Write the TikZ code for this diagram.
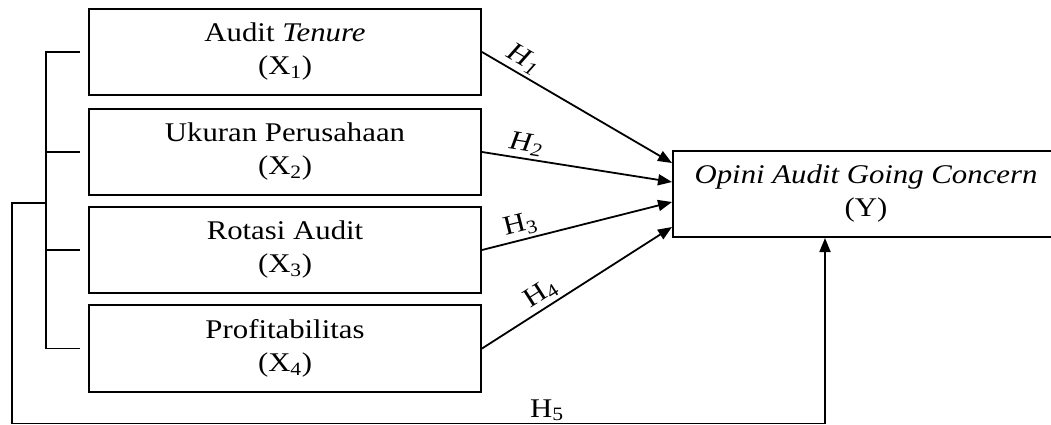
\documentclass[tikz,border=0pt]{standalone}
\usepackage{fontspec}
\setmainfont{Liberation Serif}[FakeStretch=1.14]
\usetikzlibrary{arrows.meta,calc}
\begin{document}
\begin{tikzpicture}[x=1pt,y=-1pt,
  line width=1.8pt,
  varbox/.style={draw, line width=2pt, minimum width=392pt, minimum height=86pt, align=center, inner sep=0pt,
    font=\fontsize{27}{33}\selectfont},
  arr/.style={-{Triangle[length=14pt,width=11pt]}, line width=1.8pt},
  hlab/.style={font=\fontsize{27}{33}\selectfont, inner sep=1pt, sloped, above=2pt}
]
\useasboundingbox (0,0) rectangle (1051,425);
\clip (0,0) rectangle (1051,425);

\node[varbox] (x1) at (285,52) {Audit \textit{Tenure}\\(X\textsubscript{1})};
\node[varbox] (x2) at (285,152) {Ukuran Perusahaan\\(X\textsubscript{2})};
\node[varbox] (x3) at (285,250) {Rotasi Audit\\(X\textsubscript{3})};
\node[varbox, minimum height=87pt] (x4) at (285,348.5) {Profitabilitas\\(X\textsubscript{4})};
\node[varbox, minimum width=386pt] (y) at (866,194) {\textit{Opini Audit Going Concern}\\(Y)};

% bracket on the left
\coordinate (t1) at ($(x1.west)+(-8,0)$);
\coordinate (t2) at ($(x2.west)+(-8,0)$);
\coordinate (t3) at ($(x3.west)+(-8,0)$);
\coordinate (t4) at ($(x4.west)+(-8,0)$);
\coordinate (b1) at (46,52);
\coordinate (b2) at (46,152);
\coordinate (b3) at (46,250);
\coordinate (b4) at (46,348.5);
\draw (t1) -- (b1) -- (b4) -- (t4);
\draw (b2) -- (t2);
\draw (b3) -- (t3);

% outer path to Y (H5)
\coordinate (o1) at (46,203);
\coordinate (o2) at (12,203);
\coordinate (o3) at (12,423.5);
\coordinate (o4) at (825,423.5);
\draw[arr] (o1) -- (o2) -- (o3) -- node[pos=0.658, anchor=base, yshift=6.5pt, font=\fontsize{27}{33}\selectfont, inner sep=0pt] (h5) {H\textsubscript{5}} (o4) -- (o4 |- y.south);

% hypothesis arrows
\draw[arr] (x1.east) -- node[hlab, pos=0.18] (h1) {\textit{H\textsubscript{1}}} ($(y.west)+(0,-31)$);
\draw[arr] (x2.east) -- node[hlab, pos=0.22] (h2) {\textit{H\textsubscript{2}}} ($(y.west)+(0,-12)$);
\draw[arr] (x3.east) -- node[hlab, pos=0.22] (h3) {H\textsubscript{3}} ($(y.west)+(0,8)$);
\draw[arr] (x4.east) -- node[hlab, pos=0.35] (h4) {H\textsubscript{4}} ($(y.west)+(0,33)$);
\end{tikzpicture}
\end{document}
